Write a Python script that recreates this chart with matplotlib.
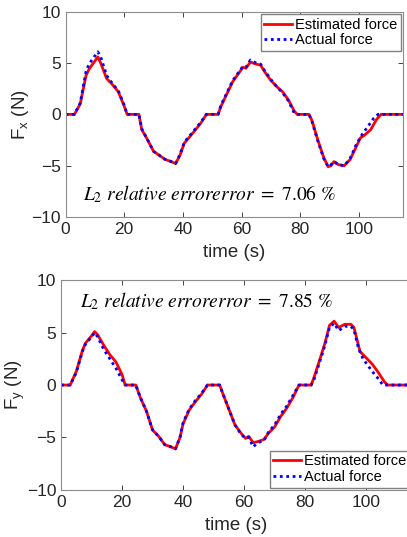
import numpy as np
import matplotlib
matplotlib.use("Agg")
import matplotlib.pyplot as plt

plt.rcParams['font.family'] = ['Liberation Sans', 'DejaVu Sans']
plt.rcParams['mathtext.fontset'] = 'custom'
plt.rcParams['mathtext.rm'] = 'Liberation Sans'
plt.rcParams['mathtext.it'] = 'Liberation Sans:italic'

# Fx data (time in s, force in N)
tx_est = [0, 3, 5, 7, 8, 10, 11, 12, 14, 16, 18, 20, 21, 25, 26, 28, 30, 32, 34, 36, 37.5, 39, 40.5, 42, 44, 46, 48,
          52, 53, 55, 57, 59, 60.5, 61.5, 63, 65, 66.5, 68, 70, 72, 74, 76, 78, 79, 83, 84, 86, 88, 89.5, 90.5, 91.5,
          93, 95, 97, 99, 100.5, 102, 104, 106, 107.5, 115]
fx_est = [0, 0, 1.0, 3.8, 4.4, 5.2, 5.6, 5.0, 3.5, 2.9, 2.2, 0.8, 0, 0, -1.5, -2.5, -3.6, -4.0, -4.4, -4.6, -4.8, -4.0, -2.8,
          -2.3, -1.6, -0.9, 0, 0, 0.8, 2.0, 3.2, 4.0, 4.6, 4.5, 5.1, 4.9, 4.8, 4.1, 3.3, 2.7, 2.2, 1.4, 0.3, 0, 0, -0.6,
          -2.5, -4.2, -5.1, -5.0, -4.6, -4.9, -5.0, -4.4, -3.2, -2.3, -2.0, -1.5, -0.5, 0, 0]
tx_act = [0, 3, 5, 7, 8, 10, 11, 12, 14, 16, 18, 20, 21, 25, 26, 28, 30, 32, 34, 36, 37.5, 39, 40.5, 42, 44, 46, 48,
          52, 53, 55, 57, 59, 60.5, 61.5, 63, 65, 66.5, 68, 70, 72, 74, 76, 78, 79, 83, 84, 86, 88, 89.5, 90.5, 91.5,
          93, 95, 97, 99, 101, 103, 105, 106.5, 115]
fx_act = [0, 0, 1.1, 4.2, 4.9, 5.7, 6.1, 5.6, 3.8, 3.0, 2.3, 0.9, 0, 0, -1.4, -2.5, -3.6, -4.0, -4.4, -4.6, -4.8, -3.9, -2.7,
          -2.2, -1.5, -0.8, 0, 0, 0.9, 2.1, 3.3, 4.1, 4.7, 4.6, 5.3, 5.0, 4.9, 4.2, 3.4, 2.7, 2.1, 1.3, 0.1, 0, 0, -0.7,
          -2.6, -4.3, -5.1, -4.9, -4.6, -4.9, -5.0, -4.3, -3.0, -2.0, -1.2, -0.4, 0, 0]

# Fy data
ty_est = [0, 3, 5, 7, 8, 10, 11, 12, 14, 16, 18, 20, 21, 24.5, 26, 28, 30, 32, 34, 36, 37.5, 39, 40, 42, 44, 46, 48,
          52, 53, 55, 57, 59, 60.5, 61.5, 63, 64.5, 66.5, 68, 70, 72, 74, 76, 78, 82, 83, 85, 86.5, 88, 89.5, 91,
          93, 95, 96, 98, 100, 102, 104, 106, 107, 115]
fy_est = [0, 0, 1.3, 3.3, 4.0, 4.7, 5.1, 4.8, 3.8, 2.9, 2.2, 1.0, 0, 0, -1.2, -2.5, -4.3, -4.9, -5.7, -5.9, -6.1, -5.0, -3.7,
          -2.4, -1.6, -0.9, 0, 0, -0.8, -2.3, -3.8, -4.6, -5.1, -4.9, -5.5, -5.4, -5.2, -4.6, -4.0, -3.0, -2.2, -1.2, 0,
          0, 0.8, 2.6, 4.0, 5.7, 6.1, 5.5, 5.8, 5.8, 5.5, 3.2, 2.6, 2.0, 1.2, 0.3, 0, 0]
ty_act = [0, 3, 5, 7, 8, 10, 11, 12, 14, 16, 18, 20, 21, 24.5, 26, 28, 30, 32, 34, 36, 37.5, 39, 40, 42, 44, 46, 48,
          52, 53, 55, 57, 59, 60.5, 61.5, 63, 64.5, 66.5, 68, 70, 72, 74, 76, 78, 82, 83, 85, 86.5, 88, 89.5, 91,
          93, 95, 96, 97.5, 99, 102, 104, 105.5, 115]
fy_act = [0, 0, 1.2, 3.2, 3.9, 4.6, 5.0, 4.6, 3.4, 2.5, 1.6, 0.5, 0, 0, -1.2, -2.5, -4.3, -4.9, -5.7, -5.9, -6.1, -5.0, -3.6,
          -2.3, -1.5, -0.8, 0, 0, -0.8, -2.3, -3.8, -4.7, -5.1, -5.0, -5.9, -5.5, -5.3, -4.5, -3.8, -2.8, -2.0, -1.0, 0,
          0, 0.6, 2.4, 3.8, 5.5, 5.9, 5.2, 5.6, 5.6, 5.3, 3.5, 2.5, 1.3, 0.6, 0, 0]

gray = '0.15'

fig = plt.figure(figsize=(4.07, 5.37), dpi=100)
ax1 = fig.add_axes([0.161, 0.596, 0.829, 0.382])
ax2 = fig.add_axes([0.150, 0.088, 0.862, 0.390])


def style(ax, ylab):
    ax.set_xlim(0, 115)
    ax.set_ylim(-10, 10)
    ax.set_xticks([0, 20, 40, 60, 80, 100])
    ax.set_yticks([-10, -5, 0, 5, 10])
    ax.tick_params(direction='in', top=True, right=True, labelsize=12.5, colors=gray, length=3.5, width=0.6)
    for s in ax.spines.values():
        s.set_color('0.55')
        s.set_linewidth(0.8)
    ax.set_xlabel('time (s)', fontsize=13.5, color=gray, labelpad=5)
    ax.set_ylabel(ylab, fontsize=13.5, color=gray, labelpad=0)


ax1.plot(tx_est, fx_est, color='red', lw=2.0, label='Estimated force')
ax1.plot(tx_act, fx_act, color='blue', lw=2.0, ls=(0, (1, 1.3)), label='Actual force')
style(ax1, r'F$_\mathrm{x}$ (N)')
ax1.text(6, -7.8, r'$L_2\ relative\ errorerror\ =\ 7.06\ \%$', fontsize=14, math_fontfamily='stix',
         color='black', va='center')
ax1.legend(loc='upper right', fontsize=10.5, fancybox=False, edgecolor='0.5', framealpha=1,
           borderpad=0.25, handlelength=1.9, handletextpad=0.2, labelspacing=0.1, borderaxespad=0.15)

ax2.plot(ty_est, fy_est, color='red', lw=2.0, label='Estimated force')
ax2.plot(ty_act, fy_act, color='blue', lw=2.0, ls=(0, (1, 1.3)), label='Actual force')
style(ax2, r'F$_\mathrm{y}$ (N)')
ax2.text(6.2, 8.0, r'$L_2\ relative\ errorerror\ =\ 7.85\ \%$', fontsize=14, math_fontfamily='stix',
         color='black', va='center')
ax2.legend(loc='lower right', fontsize=10.5, fancybox=False, edgecolor='0.5', framealpha=1,
           borderpad=0.25, handlelength=1.9, handletextpad=0.2, labelspacing=0.1, borderaxespad=0.15)

fig.savefig('out.png', dpi=100)
